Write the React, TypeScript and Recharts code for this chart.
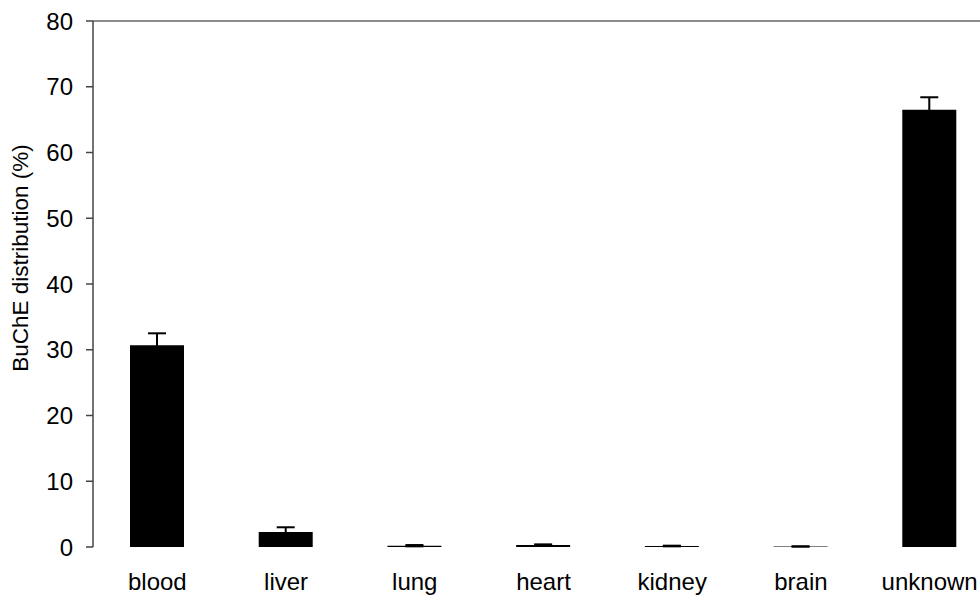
import React from "react";
import { BarChart, Bar, XAxis, YAxis, ErrorBar, ReferenceLine } from "recharts";

const categories = ["blood", "liver", "lung", "heart", "kidney", "brain", "unknown"];
const values = [30.7, 2.3, 0.2, 0.3, 0.15, 0.08, 66.5];
const errors = [1.8, 0.7, 0.1, 0.1, 0.05, 0.02, 1.9];
const yTicks = [0, 10, 20, 30, 40, 50, 60, 70, 80];
const boundaryTicks = [0, 1, 2, 3, 4, 5, 6, 7];

const data = categories.map((c, i) => ({ name: c, value: values[i], err: errors[i] }));

const font = "'Liberation Sans', Arial, sans-serif";

export default function App() {
  return (
    <div style={{ position: "absolute", left: 0, top: 0, width: 980, height: 596, overflow: "hidden", background: "#fff" }}>
      <BarChart
        width={1000}
        height={596}
        data={data}
        margin={{ top: 21, right: 6, bottom: 0, left: 0 }}
        barCategoryGap={0}
      >
        <XAxis
          xAxisId="t"
          type="number"
          domain={[0, 7]}
          ticks={boundaryTicks}
          tick={false}
          tickSize={7}
          height={0}
          axisLine={{ stroke: "#444", strokeWidth: 1.5 }}
          tickLine={{ stroke: "#444", strokeWidth: 1.5 }}
        />
        <XAxis
          dataKey="name"
          height={49}
          axisLine={false}
          tickLine={false}
          tickSize={0}
          tickMargin={26}
          interval={0}
          tick={{ fill: "#000", fontSize: 24, fontFamily: font }}
        />
        <YAxis
          domain={[0, 80]}
          ticks={yTicks}
          width={93}
          tickSize={7}
          tickMargin={13}
          interval={0}
          axisLine={{ stroke: "#444", strokeWidth: 1.5 }}
          tickLine={{ stroke: "#444", strokeWidth: 1.5 }}
          tick={{ fill: "#000", fontSize: 24, fontFamily: font }}
          label={{
            value: "BuChE distribution (%)",
            angle: -90,
            position: "insideLeft",
            offset: 0,
            dx: 20,
            dy: -26,
            style: { textAnchor: "middle", fontSize: 22.5, fontFamily: font, fill: "#000" },
          }}
        />
        <ReferenceLine y={80} stroke="#666" strokeWidth={1.5} />
        <Bar dataKey="value" fill="#000" barSize={54} isAnimationActive={false}>
          <ErrorBar dataKey="err" width={9} stroke="#000" strokeWidth={2} direction="y" />
        </Bar>
      </BarChart>
    </div>
  );
}
